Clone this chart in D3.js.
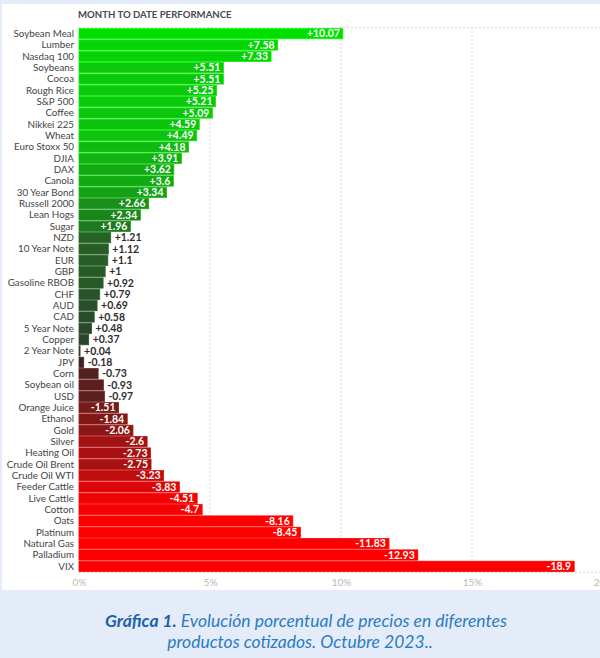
<!DOCTYPE html>
<html>
<head>
<meta charset="utf-8">
<script src="https://cdn.jsdelivr.net/npm/d3@7"></script>
<style>
  body { margin: 0; background: #e3ecf8; }
  svg { display: block; font-family: Lato, "Open Sans", sans-serif; }
</style>
</head>
<body>
<script>
// categories, top to bottom
var categories = ["Soybean Meal", "Lumber", "Nasdaq 100", "Soybeans", "Cocoa", "Rough Rice", "S&P 500", "Coffee",
    "Nikkei 225", "Wheat", "Euro Stoxx 50", "DJIA", "DAX", "Canola", "30 Year Bond", "Russell 2000", "Lean Hogs",
    "Sugar", "NZD", "10 Year Note", "EUR", "GBP", "Gasoline RBOB", "CHF", "AUD", "CAD", "5 Year Note", "Copper",
    "2 Year Note", "JPY", "Corn", "Soybean oil", "USD", "Orange Juice", "Ethanol", "Gold", "Silver", "Heating Oil",
    "Crude Oil Brent", "Crude Oil WTI", "Feeder Cattle", "Live Cattle", "Cotton", "Oats", "Platinum", "Natural Gas",
    "Palladium", "VIX"];

// month to date change, %
var values = [10.07, 7.58, 7.33, 5.51, 5.51, 5.25, 5.21, 5.09, 4.59, 4.49, 4.18, 3.91, 3.62, 3.6, 3.34, 2.66, 2.34,
    1.96, 1.21, 1.12, 1.1, 1, 0.92, 0.79, 0.69, 0.58, 0.48, 0.37, 0.04, -0.18, -0.73, -0.93, -0.97, -1.51, -1.84,
    -2.06, -2.6, -2.73, -2.75, -3.23, -3.83, -4.51, -4.7, -8.16, -8.45, -11.83, -12.93, -18.9];

var xTicks = [0, 5, 10, 15, 20];

var data = categories.map(function (c, i) { return { name: c, value: values[i] }; });

var W = 600, H = 658;
var svg = d3.select("body").append("svg").attr("width", W).attr("height", H);

// white panel
svg.append("rect").attr("x", 2).attr("y", 4).attr("width", 598).attr("height", 586).attr("fill", "#fff");

var plotTop = 28, plotBottom = 572;
var x = d3.scaleLinear().domain([0, 20]).range([79, 603]);
var y = d3.scaleBand().domain(categories).range([plotTop, plotBottom]).paddingInner(0.1).paddingOuter(0.05);

var color = d3.scaleLinear()
    .domain([-5, -3.8, -2.5, -0.1, 0, 0.1, 1, 2.5, 4.5, 10])
    .range(["#ff0000", "#d80808", "#9c1313", "#3a2626", "#333", "#2b3d2b", "#285a28", "#1a8a1a", "#0cc40c", "#00e000"])
    .clamp(true);

// title
svg.append("text")
    .attr("x", 78).attr("y", 18)
    .attr("font-size", 9.6).attr("font-weight", 700).attr("fill", "#4a4a4a")
    .text("MONTH TO DATE PERFORMANCE");

// grid
svg.append("g").selectAll("line")
    .data([5, 10, 15])
    .enter().append("line")
    .attr("x1", d => x(d)).attr("x2", d => x(d))
    .attr("y1", plotTop - 1).attr("y2", plotBottom)
    .attr("stroke", "#d8d8d8").attr("stroke-dasharray", "2,2");

svg.append("g").selectAll("line")
    .data([plotTop - 1, plotBottom])
    .enter().append("line")
    .attr("x1", x(0)).attr("x2", W)
    .attr("y1", d => d + 0.5).attr("y2", d => d + 0.5)
    .attr("stroke", "#d8d8d8").attr("stroke-dasharray", "2,2");

// bars
svg.append("g").attr("class", "bars")
    .selectAll("rect")
    .data(data)
    .enter().append("rect")
    .attr("x", x(0))
    .attr("y", d => y(d.name))
    .attr("width", d => Math.max(1, x(Math.abs(d.value)) - x(0)))
    .attr("height", y.bandwidth())
    .attr("fill", d => color(d.value))
    .attr("stroke", d => d3.color(color(d.value)).brighter(0.4))
    .attr("stroke-width", 0.8);

// category labels
svg.append("g").selectAll("text")
    .data(data)
    .enter().append("text")
    .attr("x", 74)
    .attr("y", d => y(d.name) + y.bandwidth() / 2)
    .attr("dy", "0.35em")
    .attr("text-anchor", "end")
    .attr("font-size", 9.8)
    .attr("fill", "#444")
    .text(d => d.name);

// value labels
function fmt(v) { return (v > 0 ? "+" : "") + v; }
svg.append("g").selectAll("text")
    .data(data)
    .enter().append("text")
    .attr("x", d => Math.abs(d.value) >= 1.5 ? x(Math.abs(d.value)) - 3 : x(Math.abs(d.value)) + 4)
    .attr("y", d => y(d.name) + y.bandwidth() / 2)
    .attr("dy", "0.36em")
    .attr("text-anchor", d => Math.abs(d.value) >= 1.5 ? "end" : "start")
    .attr("font-size", 10.5)
    .attr("font-weight", 700)
    .attr("fill", d => Math.abs(d.value) >= 1.5 ? "#fff" : "#2e2e2e")
    .text(d => fmt(d.value));

// x axis
var xAxis = svg.append("g")
    .attr("transform", "translate(0," + (plotBottom + 4) + ")")
    .call(d3.axisBottom(x).tickValues(xTicks).tickFormat(d => d + "%").tickSize(0));
xAxis.select(".domain").remove();
xAxis.selectAll("text").attr("font-size", 10).attr("fill", "#b8b8b8").attr("font-family", "Lato, sans-serif");

// caption
var cap = svg.append("text")
    .attr("text-anchor", "middle")
    .attr("font-size", 17.5)
    .attr("font-style", "italic")
    .attr("fill", "#2b7cc4");
cap.append("tspan").attr("x", 306).attr("y", 627)
    .attr("font-weight", 700).attr("fill", "#1c62ab").text("Gráfica 1.");
cap.append("tspan").text(" Evolución porcentual de precios en diferentes");
cap.append("tspan").attr("x", 300).attr("y", 648).text("productos cotizados. Octubre 2023..");
</script>
</body>
</html>
